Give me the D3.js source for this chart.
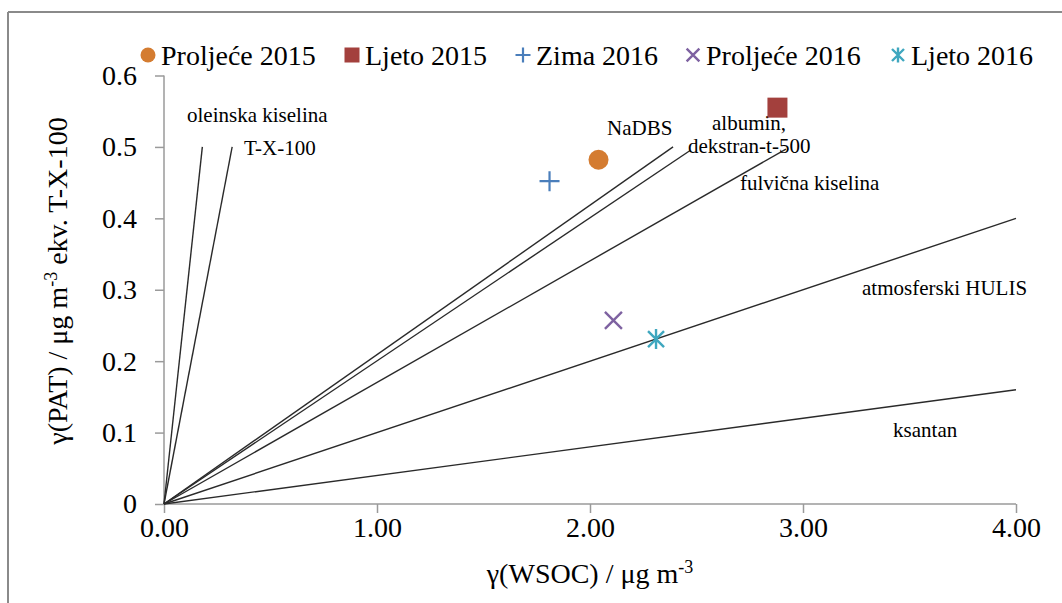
<!DOCTYPE html>
<html>
<head>
<meta charset="utf-8">
<script src="https://cdn.jsdelivr.net/npm/d3@7"></script>
<style>
  html, body { margin: 0; padding: 0; background: #fff; }
  svg text { font-family: "Liberation Serif", "Times New Roman", serif; fill: #000; }
</style>
</head>
<body>
<svg id="chart" width="1062" height="603"></svg>
<script>
// ---- data ----
const xTicks = [0, 1, 2, 3, 4];
const yTicks = [0, 0.1, 0.2, 0.3, 0.4, 0.5, 0.6];

const seriesNames = ["Proljeće 2015", "Ljeto 2015", "Zima 2016", "Proljeće 2016", "Ljeto 2016"];
const seriesX = [2.04, 2.88, 1.81, 2.11, 2.31];
const seriesY = [0.482, 0.555, 0.452, 0.257, 0.231];
const seriesSymbols = ["circle", "square", "plus", "cross", "asterisk"];
const seriesColors = ["#D47C31", "#A3403D", "#4A7EBB", "#7E62A1", "#3FA7BF"];

// reference lines from origin: end point (x, y)
const refNames = ["oleinska kiselina", "T-X-100", "NaDBS", "albumin, dekstran-t-500", "fulvična kiselina", "atmosferski HULIS", "ksantan"];
const refEndX = [0.18, 0.32, 2.39, 2.47, 2.92, 4.0, 4.0];
const refEndY = [0.5, 0.5, 0.5, 0.495, 0.497, 0.4, 0.16];

// line annotations (anchor in data units)
const labelTexts = ["oleinska kiselina", "T-X-100", "NaDBS", "albumin,", "dekstran-t-500", "fulvična kiselina", "atmosferski HULIS", "ksantan"];
const labelX = [0.108, 0.376, 2.08, 2.573, 2.46, 2.704, 3.277, 3.423];
const labelY = [0.535, 0.489, 0.517, 0.524, 0.492, 0.440, 0.293, 0.094];

// ---- layout ----
const svg = d3.select("#chart");
const x0 = 164, x1 = 1016, yTop = 75.5, yBot = 504;
const x = d3.scaleLinear().domain([0, 4]).range([x0, x1]);
const y = d3.scaleLinear().domain([0, 0.6]).range([yBot, yTop]);

// frame
svg.append("line").attr("x1", 8).attr("x2", 1062).attr("y1", 12).attr("y2", 12)
  .attr("stroke", "#8a8a8a").attr("stroke-width", 2);
svg.append("line").attr("x1", 8).attr("x2", 8).attr("y1", 12).attr("y2", 603)
  .attr("stroke", "#8a8a8a").attr("stroke-width", 2);

// axes
const axisColor = "#9a9a9a";
const gx = svg.append("g").attr("transform", `translate(0,${yBot})`)
  .call(d3.axisBottom(x).tickValues(xTicks).tickFormat(d3.format(".2f")).tickSize(9).tickPadding(4));
const gy = svg.append("g").attr("transform", `translate(${x0},0)`)
  .call(d3.axisLeft(y).tickValues(yTicks).tickFormat(d => d === 0 ? "0" : d3.format(".1f")(d)).tickSize(9).tickPadding(18));
[gx, gy].forEach(g => {
  g.select(".domain").attr("stroke", axisColor).attr("stroke-width", 1.5);
  g.selectAll(".tick line").attr("stroke", axisColor).attr("stroke-width", 1.5);
  g.selectAll(".tick text").attr("font-family", "Liberation Serif").attr("font-size", 28).attr("fill", "#000");
});
gy.select(".domain").attr("d", `M-0,${yBot}V${yTop}`);
gx.select(".domain").attr("d", `M${x0},0H${x1}`);

// reference lines
const refData = refNames.map((n, i) => ({ name: n, x: refEndX[i], y: refEndY[i] }));
svg.append("g").selectAll("line").data(refData).join("line")
  .attr("x1", x(0)).attr("y1", y(0))
  .attr("x2", d => x(d.x)).attr("y2", d => y(d.y))
  .attr("stroke", "#2a2a2a").attr("stroke-width", 1.4);

// line labels
svg.append("g").selectAll("text").data(labelTexts.map((t, i) => ({ t, x: labelX[i], y: labelY[i] })))
  .join("text")
  .attr("x", d => x(d.x)).attr("y", d => y(d.y))
  .attr("font-size", 21)
  .text(d => d.t);

// marker drawing
function drawMarker(g, sym, color, s) {
  const h = s / 2;
  if (sym === "circle") {
    g.append("circle").attr("r", h).attr("fill", color);
  } else if (sym === "square") {
    g.append("rect").attr("x", -h).attr("y", -h).attr("width", s).attr("height", s).attr("fill", color);
  } else if (sym === "plus") {
    g.append("path").attr("d", `M${-h},0H${h}M0,${-h}V${h}`).attr("stroke", color).attr("stroke-width", 2.2).attr("fill", "none");
  } else if (sym === "cross") {
    const k = h * 0.85;
    g.append("path").attr("d", `M${-k},${-k}L${k},${k}M${-k},${k}L${k},${-k}`).attr("stroke", color).attr("stroke-width", 2.4).attr("fill", "none");
  } else if (sym === "asterisk") {
    const k = h * 0.8;
    g.append("path").attr("d", `M${-k},${-k}L${k},${k}M${-k},${k}L${k},${-k}M0,${-h}V${h}`).attr("stroke", color).attr("stroke-width", 2.4).attr("fill", "none");
  }
}

// data points
seriesNames.forEach((n, i) => {
  const g = svg.append("g").attr("transform", `translate(${x(seriesX[i])},${y(seriesY[i])})`);
  drawMarker(g, seriesSymbols[i], seriesColors[i], 20);
});

// legend
const legendMarkerX = [148, 352, 523, 693, 898];
const legend = svg.append("g");
seriesNames.forEach((n, i) => {
  const g = legend.append("g").attr("transform", `translate(${legendMarkerX[i]},55)`);
  drawMarker(g, seriesSymbols[i], seriesColors[i], i === 0 ? 15 : 15);
  legend.append("text").attr("x", legendMarkerX[i] + 13).attr("y", 65)
    .attr("font-size", 28).text(n);
});

// axis titles
const xt = svg.append("text").attr("x", 590).attr("y", 583).attr("text-anchor", "middle").attr("font-size", 28);
xt.append("tspan").text("γ(WSOC) / μg m");
xt.append("tspan").attr("baseline-shift", "super").attr("font-size", 18).text("-3");

const yt = svg.append("text").attr("transform", "translate(67,281) rotate(-90)").attr("text-anchor", "middle").attr("font-size", 28);
yt.append("tspan").text("γ(PAT) / μg m");
yt.append("tspan").attr("baseline-shift", "super").attr("font-size", 18).text("-3");
yt.append("tspan").text(" ekv. T-X-100");
</script>
</body>
</html>
